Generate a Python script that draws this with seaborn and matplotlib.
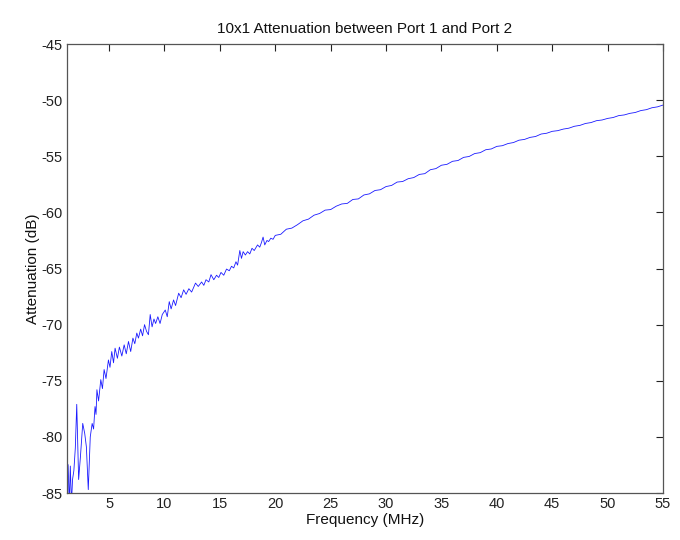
import matplotlib
matplotlib.use("Agg")
import matplotlib.pyplot as plt
import seaborn as sns
import pandas as pd

title = "10x1 Attenuation between Port 1 and Port 2"
xlabel = "Frequency (MHz)"
ylabel = "Attenuation (dB)"
xticks = [5, 10, 15, 20, 25, 30, 35, 40, 45, 50, 55]
yticks = [-85, -80, -75, -70, -65, -60, -55, -50, -45]

freq_low = [1.2, 1.3, 1.4, 1.5, 1.6, 1.7, 1.82, 1.95, 2.08, 2.25, 2.41, 2.62, 2.8,
            2.95, 3.12, 3.3, 3.47, 3.6, 3.73, 3.82, 3.9, 4.05, 4.25, 4.4, 4.55,
            4.72, 4.94, 5.08, 5.24, 5.4, 5.54, 5.75, 5.93, 6.15, 6.36, 6.55, 6.75,
            6.95, 7.15, 7.32, 7.5, 7.65, 7.85, 8.02, 8.2, 8.38, 8.55, 8.71, 8.88,
            9.05, 9.2, 9.4, 9.6, 9.8]
atten_low = [-82.3, -82.5, -86.0, -82.6, -86.0, -83.8, -83.0, -81.0, -77.1, -83.8,
             -81.8, -78.8, -79.7, -80.9, -84.7, -80.0, -78.8, -79.3, -77.3, -78.0,
             -75.8, -76.8, -74.9, -75.7, -74.0, -74.8, -73.15, -73.8, -72.4, -73.4,
             -72.1, -73.0, -72.0, -72.8, -71.8, -72.6, -71.5, -72.4, -71.2, -71.7,
             -70.75, -71.2, -70.4, -71.0, -70.0, -70.6, -70.9, -69.1, -70.2, -69.5,
             -69.9, -69.3, -69.9, -69.1]

freq_mid = [10.07, 10.25, 10.43, 10.6, 10.82, 11.0, 11.28, 11.5, 11.73, 11.95, 12.2,
            12.45, 12.8, 13.05, 13.35, 13.55, 13.75, 14.0, 14.2, 14.45, 14.7, 14.9,
            15.1, 15.35, 15.6, 15.85, 16.05, 16.25, 16.45, 16.6, 16.8, 16.95, 17.1,
            17.3, 17.5, 17.7, 17.9, 18.1, 18.4, 18.6, 18.75, 18.9, 19.05, 19.25,
            19.4, 19.6, 19.8]
atten_mid = [-68.7, -69.3, -67.95, -68.6, -67.8, -68.3, -67.2, -67.6, -66.9, -67.3,
             -66.8, -67.1, -66.3, -66.6, -66.2, -66.5, -66.0, -66.2, -65.55, -66.0,
             -65.6, -65.8, -65.35, -65.6, -65.05, -65.2, -64.8, -64.95, -64.4, -64.7,
             -63.4, -64.1, -63.5, -63.8, -63.5, -63.7, -63.2, -63.4, -62.9, -63.1,
             -62.7, -62.2, -62.9, -62.5, -62.6, -62.3, -62.4]

freq_high = [20.0, 20.5, 21.0, 21.5, 22.0, 22.5, 23.0, 23.5, 24.0, 24.5, 25.0, 25.5,
             26.0, 26.5, 27.0, 27.5, 28.0, 28.5, 29.0, 29.5, 30.0, 30.5, 31.0, 31.5,
             32.0, 32.5, 33.0, 33.5, 34.0, 34.5, 35.0, 35.5, 36.0, 36.5, 37.0, 37.5,
             38.0, 38.5, 39.0, 39.5, 40.0, 40.5, 41.0, 41.5, 42.0, 42.5, 43.0, 43.5,
             44.0, 44.5, 45.0, 45.5, 46.0, 46.5, 47.0, 47.5, 48.0, 48.5, 49.0, 49.5,
             50.0, 50.5, 51.0, 51.5, 52.0, 52.5, 53.0, 53.5, 54.0, 54.5, 55.0]
atten_high = [-62.05, -61.95, -61.5, -61.4, -61.1, -60.75, -60.6, -60.25, -60.1,
              -59.8, -59.75, -59.45, -59.25, -59.2, -58.85, -58.8, -58.45, -58.35,
              -58.05, -57.98, -57.7, -57.6, -57.3, -57.25, -57.0, -56.9, -56.62,
              -56.55, -56.2, -56.1, -55.8, -55.72, -55.45, -55.38, -55.1, -55.02,
              -54.76, -54.68, -54.42, -54.35, -54.12, -54.06, -53.87, -53.78, -53.57,
              -53.5, -53.32, -53.24, -53.02, -52.95, -52.78, -52.72, -52.58, -52.5,
              -52.33, -52.25, -52.08, -52.0, -51.83, -51.77, -51.63, -51.55, -51.38,
              -51.32, -51.18, -51.1, -50.93, -50.85, -50.68, -50.6, -50.44]

df = pd.DataFrame({
    "freq": freq_low + freq_mid + freq_high,
    "atten": atten_low + atten_mid + atten_high,
})

sns.set_theme(style="white")
plt.rcParams["font.family"] = ["Liberation Sans", "DejaVu Sans"]
plt.rcParams["axes.unicode_minus"] = False

fig = plt.figure(figsize=(6.8, 5.4), dpi=100)
ax = fig.add_axes([67 / 680, 1 - 493 / 540, (663 - 67) / 680, (493 - 44) / 540])
sns.lineplot(data=df, x="freq", y="atten", ax=ax, color="#1a1aff",
             linewidth=0.6, sort=False, estimator=None)

ax.set_xlim(1.2, 55)
ax.set_ylim(-85, -45)
ax.set_xticks(xticks)
ax.set_yticks(yticks)
ax.tick_params(direction="in", length=5, width=0.8, top=True, right=True,
               labelsize=10.5, colors="#222222", pad=3)
for s in ax.spines.values():
    s.set_color("#555555")
    s.set_linewidth(0.9)
ax.set_title(title, fontsize=11, color="#111111", pad=8)
ax.set_xlabel(xlabel, fontsize=11, color="#111111", labelpad=1)
ax.set_ylabel(ylabel, fontsize=11, color="#111111", labelpad=1)

fig.savefig("out.png", dpi=100, facecolor="white")
